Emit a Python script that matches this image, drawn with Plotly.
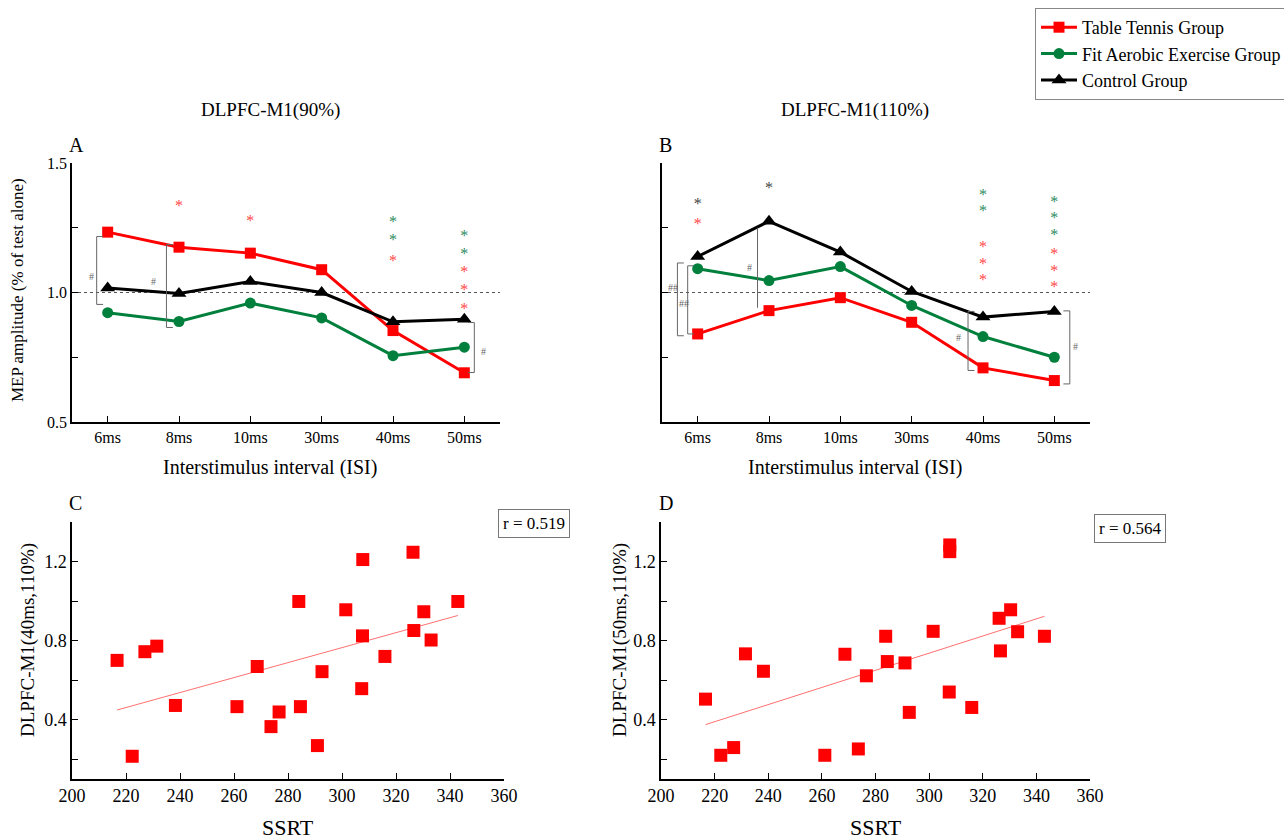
import plotly.graph_objects as go

W, H = 1284, 839
FONT = "Liberation Serif, Times New Roman, serif"

# ---------------- data ----------------
isi = ["6ms", "8ms", "10ms", "30ms", "40ms", "50ms"]
groups = ["Table Tennis Group", "Fit Aerobic Exercise Group", "Control Group"]

a_tt = [1.233, 1.175, 1.152, 1.088, 0.853, 0.690]
a_fae = [0.922, 0.888, 0.959, 0.902, 0.756, 0.789]
a_ctl = [1.017, 0.996, 1.042, 1.000, 0.887, 0.897]

b_tt = [0.840, 0.930, 0.980, 0.885, 0.709, 0.660]
b_fae = [1.092, 1.046, 1.100, 0.950, 0.830, 0.750]
b_ctl = [1.139, 1.275, 1.156, 1.004, 0.905, 0.927]

# significance stars: (ISI index, y value, group colour key)
a_star_x = [1, 2, 4, 4, 4, 5, 5, 5, 5, 5]
a_star_y = [1.332, 1.271, 1.270, 1.200, 1.117, 1.216, 1.144, 1.075, 1.005, 0.934]
a_star_g = ["r", "r", "g", "g", "r", "g", "g", "r", "r", "r"]

b_star_x = [0, 0, 1, 4, 4, 4, 4, 4, 5, 5, 5, 5, 5, 5]
b_star_y = [1.336, 1.259, 1.400, 1.372, 1.310, 1.171, 1.108, 1.044,
            1.346, 1.285, 1.220, 1.143, 1.081, 1.018]
b_star_g = ["k", "r", "k", "g", "g", "r", "r", "r", "g", "g", "g", "r", "r", "r"]

# brackets: (x position in ISI units, y bottom, y top, tick direction, label, label x, label y)
a_brackets = [(-0.154, 0.954, 1.216, 1, "#", -0.223, 1.062),
              (0.824, 0.865, 1.185, 1, "#", 0.642, 1.042),
              (5.14, 0.691, 0.884, -1, "#", 5.265, 0.772)]
b_brackets = [(-0.284, 0.833, 1.114, 1, "##", -0.35, 1.018),
              (-0.14, 0.840, 1.103, 1, "##", -0.196, 0.956),
              (0.839, 0.941, 1.250, 0, "#", 0.727, 1.095),
              (3.79, 0.699, 0.927, 1, "#", 3.66, 0.825),
              (5.217, 0.647, 0.929, -1, "#", 5.30, 0.790)]

ssrt_c = [216.7, 222.3, 227.0, 231.4, 238.3, 261.1, 268.6, 273.7, 276.7, 284.0, 284.6, 290.9,
          292.6, 301.4, 307.7, 307.6, 307.3, 315.9, 326.3, 326.6, 330.3, 333.0, 342.9]
mep_c = [0.700, 0.215, 0.744, 0.772, 0.472, 0.466, 0.669, 0.365, 0.439, 0.998, 0.466, 0.269,
         0.643, 0.956, 1.210, 0.824, 0.557, 0.720, 1.247, 0.851, 0.946, 0.803, 0.998]
fit_c_x = [216.7, 342.9]
fit_c_y = [0.449, 0.927]

ssrt_d = [216.6, 222.3, 227.1, 231.5, 238.2, 261.1, 268.6, 273.6, 276.6, 283.8, 284.4, 291.0,
          292.6, 301.5, 307.7, 307.7, 307.5, 315.9, 326.1, 326.6, 330.4, 333.0, 343.0]
mep_d = [0.504, 0.220, 0.259, 0.733, 0.645, 0.220, 0.731, 0.252, 0.622, 0.822, 0.694, 0.687,
         0.437, 0.847, 1.284, 1.250, 0.540, 0.462, 0.913, 0.748, 0.956, 0.845, 0.822]
fit_d_x = [216.6, 343.0]
fit_d_y = [0.375, 0.923]

r_c = "r = 0.519"
r_d = "r = 0.564"

# ---------------- styles ----------------
RED, GREEN, BLACK = "#ff0000", "#00803c", "#000000"
STAR_COL = {"r": "#ff4848", "g": "#2e8b5f", "k": "#444444"}
idx = list(range(len(isi)))


def px(x):
    return x / W


def py(y):
    return 1 - y / H


fig = go.Figure()

series_style = [
    (RED, "square", 11),
    (GREEN, "circle", 11),
    (BLACK, "triangle-up", 13),
]

for (xa, ya, data, show) in [("x", "y", [a_tt, a_fae, a_ctl], True),
                             ("x2", "y2", [b_tt, b_fae, b_ctl], False)]:
    fig.add_trace(go.Scatter(x=[-0.5, 5.5], y=[1.0, 1.0], mode="lines",
                             line=dict(color="#555555", width=1, dash="dot"),
                             xaxis=xa, yaxis=ya, showlegend=False, hoverinfo="skip"))
    for name, vals, (col, sym, ms) in zip(groups, data, series_style):
        fig.add_trace(go.Scatter(x=idx, y=vals, mode="lines+markers", name=name,
                                 line=dict(color=col, width=3),
                                 marker=dict(symbol=sym, size=ms, color=col),
                                 xaxis=xa, yaxis=ya, showlegend=show))

for xa, ya, sx, sy, sg in [("x", "y", a_star_x, a_star_y, a_star_g),
                           ("x2", "y2", b_star_x, b_star_y, b_star_g)]:
    fig.add_trace(go.Scatter(x=sx, y=sy, mode="text", text=["*"] * len(sx),
                             textfont=dict(color=[STAR_COL[g] for g in sg], size=16, family=FONT),
                             textposition="middle center",
                             xaxis=xa, yaxis=ya, showlegend=False, hoverinfo="skip"))

shapes = []
annotations = []
for xa, ya, brs in [("x", "y", a_brackets), ("x2", "y2", b_brackets)]:
    for (bx, y0, y1, d, lab, lx, ly) in brs:
        t = 0.09 * d
        path = f"M {bx + t},{y0} L {bx},{y0} L {bx},{y1} L {bx + t},{y1}"
        shapes.append(dict(type="path", path=path, xref=xa, yref=ya,
                           line=dict(color="#666666", width=1)))
        annotations.append(dict(x=lx, y=ly, xref=xa, yref=ya, text=lab, showarrow=False,
                                xanchor="center", yanchor="middle",
                                font=dict(size=10, color="#666666", family=FONT)))

for xa, ya, sx, sy, fx, fy in [("x3", "y3", ssrt_c, mep_c, fit_c_x, fit_c_y),
                               ("x4", "y4", ssrt_d, mep_d, fit_d_x, fit_d_y)]:
    fig.add_trace(go.Scatter(x=fx, y=fy, mode="lines", line=dict(color="#ff7070", width=1),
                             xaxis=xa, yaxis=ya, showlegend=False, hoverinfo="skip"))
    fig.add_trace(go.Scatter(x=sx, y=sy, mode="markers",
                             marker=dict(symbol="square", size=13, color=RED),
                             xaxis=xa, yaxis=ya, showlegend=False))

axis_common = dict(showline=True, linecolor="black", linewidth=1.5, ticks="inside",
                   tickcolor="black", ticklen=6, showgrid=False, zeroline=False,
                   mirror=False, automargin=False)

fig.update_layout(
    template="none",
    width=W, height=H, margin=dict(l=0, r=0, t=0, b=0, pad=0, autoexpand=False),
    paper_bgcolor="white", plot_bgcolor="white",
    font=dict(family=FONT, color="black"),
    xaxis=dict(domain=[px(72), px(500)], range=[-0.5, 5.5], tickvals=idx, ticktext=isi,
               anchor="y", tickfont=dict(size=16), **axis_common),
    yaxis=dict(domain=[py(422), py(163)], range=[0.5, 1.5],
               tickvals=[0.5, 0.75, 1.0, 1.25, 1.5], ticktext=["0.5", "", "1.0", "", "1.5"],
               anchor="x", tickfont=dict(size=16), **axis_common),
    xaxis2=dict(domain=[px(662), px(1090)], range=[-0.5, 5.5], tickvals=idx, ticktext=isi,
                anchor="y2", tickfont=dict(size=16), **axis_common),
    yaxis2=dict(domain=[py(422), py(163)], range=[0.5, 1.5],
                tickvals=[0.5, 0.75, 1.0, 1.25, 1.5], showticklabels=False,
                anchor="x2", **axis_common),
    xaxis3=dict(domain=[px(72), px(504)], range=[200, 360], dtick=20, tick0=200,
                anchor="y3", tickfont=dict(size=18), **axis_common),
    yaxis3=dict(domain=[py(779), py(522)], range=[0.1, 1.4],
                tickvals=[0.2, 0.4, 0.6, 0.8, 1.0, 1.2, 1.4],
                ticktext=["", "0.4", "", "0.8", "", "1.2", ""],
                anchor="x3", tickfont=dict(size=18), **axis_common),
    xaxis4=dict(domain=[px(661), px(1090)], range=[200, 360], dtick=20, tick0=200,
                anchor="y4", tickfont=dict(size=18), **axis_common),
    yaxis4=dict(domain=[py(779), py(522)], range=[0.1, 1.4],
                tickvals=[0.2, 0.4, 0.6, 0.8, 1.0, 1.2, 1.4],
                ticktext=["", "0.4", "", "0.8", "", "1.2", ""],
                anchor="x4", tickfont=dict(size=18), **axis_common),
    legend=dict(x=px(1035), y=py(8), xanchor="left", yanchor="top",
                bordercolor="#888888", borderwidth=1, bgcolor="white",
                font=dict(size=18, family=FONT), itemwidth=36, tracegroupgap=0,
                entrywidth=252),
    shapes=shapes,
)


def label(text, x, y, size, angle=0, **kw):
    annotations.append(dict(text=text, x=px(x), y=py(y), xref="paper", yref="paper",
                            showarrow=False, textangle=angle,
                            xanchor="center", yanchor="middle",
                            font=dict(size=size, family=FONT, color="black"), **kw))


label("DLPFC-M1(90%)", 270, 110, 19)
label("DLPFC-M1(110%)", 855, 110, 19)
label("A", 76, 145, 20)
label("B", 665, 145, 20)
label("C", 75, 503, 20)
label("D", 666, 503, 20)
label("Interstimulus interval (ISI)", 270, 467, 20)
label("Interstimulus interval (ISI)", 855, 467, 20)
label("SSRT", 288, 827, 22)
label("SSRT", 876, 827, 22)
label("MEP amplitude (% of test alone)", 18, 290, 17, angle=-90)
label("DLPFC-M1(40ms,110%)", 28, 640, 19, angle=-90)
label("DLPFC-M1(50ms,110%)", 620, 640, 19, angle=-90)
label(r_c, 534, 523, 17, bordercolor="#777777", borderwidth=1, borderpad=4)
label(r_d, 1130, 528, 17, bordercolor="#777777", borderwidth=1, borderpad=4)

fig.update_layout(annotations=annotations)
fig.write_html("out.html", config={"displayModeBar": False},
               post_script="document.body.style.margin='0px';")
